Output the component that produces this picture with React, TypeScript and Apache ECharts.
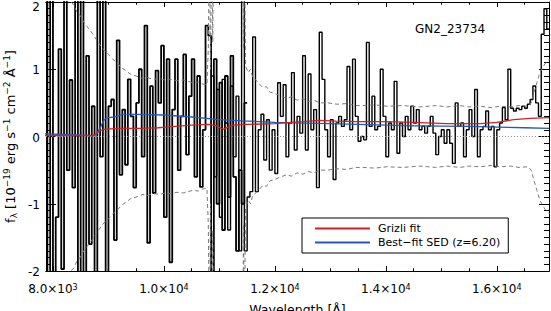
import React, { useEffect, useRef } from 'react';
import * as echarts from 'echarts';

const FONT = 'DejaVu Sans';
const X_MIN = 7875;
const X_MAX = 16940;
const Y_MIN = -2;
const Y_MAX = 2;
const X_MAJOR_TICKS = [8000, 10000, 12000, 14000, 16000];
const X_MINOR_TICKS = [8000, 8500, 9000, 9500, 10000, 10500, 11000, 11500, 12000, 12500, 13000, 13500, 14000, 14500, 15000, 15500, 16000, 16500];

// G102 spectrum (bin start, bin width in Angstrom)
const G102_START = 7850;
const G102_BIN = 50;
const G102_FLUX = [
  2.5, -2.5, 2.5, -2.5, -1.2, 1.3, -1.97, 2.5, -0.5, 0.84,
  -0.76, 2.5, -2.5, 2.5, -2.5, 1.2, -1.6, 0.45, -2.5, 2.5,
  -0.3, 2.5, -2.5, 0.45, 0.55, -1.54, 1.43, -0.57, 0.4, -0.42,
  0.85, 0.3, -0.76, 0.5, 1.0, -0.3, 1.65, -1.58, 0.75, -0.84,
  0.98, 0.5, 1.35, -1.2, 1.15, -1.87, 0.4, 1.15, -0.5, 0.3,
  1.22, -0.27, 0.6, 1.15, -0.6, 0.9, -0.75, 0.1, 1.65, 1.5,
  -2.5, 1.15, -1.0, 0.8, -1.39, 0.9, -0.9, 1.2, -0.6, -1.7,
  -0.5, -1.0, 0.5,
];

// G141 spectrum
const G141_START = 10850;
const G141_BIN = 50;
const G141_FLUX = [
  0.9, -0.6, 0.7, -1.2, 0.85, 0.2, -1.39, 0.75, -0.3, 0.6,
  -1.7, 2.5, -1.7, -0.9, -0.82, 1.48, -0.82, 0.1, 0.33, -0.35,
  0.25, -0.5, 0.1, -0.55, 0.8, 0.3, 0.77, -0.3, 0.2, 0.95,
  -0.2, 0.3, 0.05, 1.2, -0.2, 0.93, 0.1, 0.4, -0.76, 1.55,
  0.85, 0.1, -0.3, 0.25, -0.64, 0.2, 0.3, 0.15, 0.25, 1.04,
  0.1, 1.15, 0.3, -0.07, 0.0, -0.05, 1.4, 0.15, 0.6, 0.1,
  0.15, 1.0, 0.3, -0.3, 0.2, 0.1, 0.82, -0.25, 0.2, 0.0,
  0.3, 0.1, 0.45, 0.2, 0.4, 0.1, 0.15, 0.05, 0.15, 0.3,
  0.05, -0.27, 0.0, 0.1, -0.1, 0.1, -0.1, -0.4, 0.5, 0.15,
  0.2, -0.3, 0.1, 0.4, 0.0, 0.7, -0.3, 0.1, 0.15, 0.38,
  0.1, 0.15, -0.45, 0.1, 0.2, 0.43, 0.25, 1.0, 0.42, 0.38,
  0.42, 0.4, 0.45, 0.42, 0.48, 0.55, 0.75, 0.5, 0.3, 1.52,
  1.9, 1.6,
];

// 1-sigma uncertainties
const G102_ERR_WAVE = [7850, 8150, 8250, 8306, 8380, 8432, 8490, 8541, 8620, 8721, 8800, 8901, 8960, 9027, 9090, 9153, 9240, 9333, 9387, 9500, 9622, 9694, 9800, 9928, 10020, 10108, 10234, 10350, 10523, 10620, 10700, 10775, 10800, 10820, 10840, 10860, 10880, 10900, 11500];
const G102_ERR = [3.5, 2.6, 2.2, 2.02, 1.95, 1.85, 1.8, 1.72, 1.63, 1.52, 1.42, 1.3, 1.26, 1.2, 1.14, 1.1, 1.02, 0.97, 0.93, 0.9, 0.86, 0.88, 0.85, 0.86, 0.84, 0.85, 0.83, 0.84, 0.8, 0.81, 0.78, 0.77, 1.3, 3.0, 1.0, 3.0, 1.4, 3.2, 3.2];
const G141_ERR_WAVE = [10850, 11420, 11435, 11450, 11470, 11520, 11560, 11600, 11680, 11780, 11850, 11910, 12000, 12100, 12216, 12300, 12400, 12505, 12600, 12700, 12811, 12950, 13118, 13300, 13450, 13586, 13800, 14019, 14300, 14613, 14900, 15100, 15334, 15500, 15700, 15900, 16055, 16250, 16400, 16560, 16620, 16668, 16722, 16776, 16866, 16950];
const G141_ERR = [3.2, 3.2, 1.3, 3.0, 1.05, 0.95, 1.0, 0.88, 0.82, 0.73, 0.74, 0.66, 0.64, 0.6, 0.57, 0.59, 0.54, 0.56, 0.52, 0.54, 0.5, 0.5, 0.48, 0.49, 0.46, 0.46, 0.47, 0.45, 0.46, 0.44, 0.46, 0.44, 0.46, 0.44, 0.45, 0.43, 0.45, 0.44, 0.46, 0.45, 0.5, 0.65, 0.8, 0.95, 1.08, 1.15];

// Grizli fit (red)
const FIT_WAVE = [7850, 8700, 8760, 8850, 8950, 9200, 9600, 9900, 10200, 10500, 10800, 10950, 11030, 11080, 11150, 11250, 11500, 12000, 12500, 12800, 13100, 13500, 14000, 14500, 15100, 15700, 16000, 16300, 16600, 16940];
const FIT_FLUX = [0.015, 0.015, 0.03, 0.09, 0.11, 0.12, 0.12, 0.13, 0.15, 0.17, 0.18, 0.16, 0.12, 0.11, 0.14, 0.17, 0.18, 0.19, 0.22, 0.24, 0.23, 0.22, 0.22, 0.21, 0.19, 0.19, 0.21, 0.25, 0.27, 0.28];

// Best-fit SED (blue)
const SED_WAVE = [7850, 8200, 8500, 8720, 8780, 8850, 8900, 8950, 9000, 9100, 9150, 9250, 9500, 10000, 10500, 11000, 11500, 12000, 12500, 13000, 13500, 14000, 14500, 15000, 15500, 16000, 16500, 16940];
const SED_FLUX = [0.04, 0.03, 0.02, 0.01, 0.03, 0.12, 0.22, 0.27, 0.28, 0.29, 0.3, 0.33, 0.33, 0.32, 0.29, 0.25, 0.23, 0.21, 0.2, 0.19, 0.18, 0.17, 0.16, 0.155, 0.15, 0.14, 0.13, 0.12];

const RED = '#cc2229';
const BLUE = '#2659b2';

function stepData(start: number, bin: number, flux: number[]) {
  const d: number[][] = flux.map((v, i) => [start + i * bin, v]);
  d.push([start + flux.length * bin, flux[flux.length - 1]]);
  return d;
}

function fmtSci(v: number) {
  const e = Math.floor(Math.log10(v) + 1e-9);
  const m = (v / Math.pow(10, e)).toFixed(1);
  return `{m|${m}×10}{s|${e}}`;
}

export default function App() {
  const ref = useRef<HTMLDivElement>(null);
  useEffect(() => {
    if (!ref.current) return;
    const chart = echarts.init(ref.current, undefined, { renderer: 'svg' });
    const axisLine = { show: true, onZero: false, lineStyle: { color: '#000', width: 1 } };
    const baseX = {
      type: 'value' as const,
      min: X_MIN,
      max: X_MAX,
      splitLine: { show: false },
      axisLine,
    };
    const option: any = {
      animation: false,
      backgroundColor: '#fff',
      grid: { left: 46, right: 2, top: 2, bottom: 40, containLabel: false, outerBoundsMode: 'none' },
      title: {
        text: 'GN2_23734',
        left: 410,
        top: 18,
        textStyle: { fontFamily: FONT, fontSize: 12, fontWeight: 'normal', color: '#000' },
      },
      legend: {
        orient: 'vertical',
        left: 302,
        top: 218,
        padding: [5, 8, 5, 13],
        itemGap: 3,
        itemWidth: 55,
        itemHeight: 2,
        icon: 'rect',
        borderColor: '#000',
        borderWidth: 1,
        backgroundColor: '#fff',
        textStyle: { fontFamily: FONT, fontSize: 11, color: '#000', padding: [0, 0, 0, 3] },
        data: ['Grizli fit', 'Best−fit SED (z=6.20)'],
      },
      xAxis: [
        {
          ...baseX,
          position: 'bottom',
          name: 'Wavelength [Å]',
          nameLocation: 'middle',
          nameGap: 32,
          nameMoveOverlap: false,
          nameTextStyle: { fontFamily: FONT, fontSize: 12.5, lineHeight: 13, color: '#000' },
          axisTick: { show: true, inside: true, length: 5, customValues: X_MAJOR_TICKS, lineStyle: { color: '#000' } },
          axisLabel: {
            show: true,
            margin: 12,
            customValues: X_MAJOR_TICKS,
            formatter: (v: number) => fmtSci(v),
            rich: {
              m: { fontFamily: FONT, fontSize: 12, color: '#000', lineHeight: 12 },
              s: { fontFamily: FONT, fontSize: 8, color: '#000', lineHeight: 8, verticalAlign: 'top' },
            },
          },
        },
        {
          ...baseX,
          position: 'bottom',
          axisTick: { show: true, inside: true, length: 2.7, customValues: X_MINOR_TICKS, lineStyle: { color: '#000' } },
          axisLabel: { show: false },
        },
        {
          ...baseX,
          position: 'top',
          axisTick: { show: true, inside: true, length: 5, customValues: X_MAJOR_TICKS, lineStyle: { color: '#000' } },
          axisLabel: { show: false },
        },
        {
          ...baseX,
          position: 'top',
          axisTick: { show: true, inside: true, length: 2.7, customValues: X_MINOR_TICKS, lineStyle: { color: '#000' } },
          axisLabel: { show: false },
        },
      ],
      yAxis: [
        {
          type: 'value',
          min: Y_MIN,
          max: Y_MAX,
          interval: 1,
          position: 'left',
          splitLine: { show: false },
          axisLine,
          axisTick: { show: true, inside: true, length: 10, lineStyle: { color: '#000' } },
          minorTick: { show: true, splitNumber: 10, length: 5, lineStyle: { color: '#000' } },
          axisLabel: {
            margin: 6,
            formatter: (v: number) => (v === Y_MAX ? `{top|${v}}` : `{n|${v}}`),
            rich: {
              n: { fontFamily: FONT, fontSize: 12, color: '#000', padding: [2, 0, 0, 0] },
              top: { fontFamily: FONT, fontSize: 12, color: '#000', padding: [9, 0, 0, 0] },
            },
          },
          name: 'f{sub|λ} [10{sup|−19} erg s{sup|−1} cm{sup|−2} Å{sup|−1}]',
          nameLocation: 'middle',
          nameRotate: 90,
          nameGap: 28,
          nameMoveOverlap: false,
          nameTextStyle: {
            fontFamily: FONT,
            fontSize: 13,
            color: '#000',
            lineHeight: 16,
            rich: {
              sub: { fontFamily: FONT, fontSize: 9, color: '#000', lineHeight: 9, verticalAlign: 'bottom' },
              sup: { fontFamily: FONT, fontSize: 9, color: '#000', lineHeight: 9, verticalAlign: 'top' },
            },
          },
        },
        {
          type: 'value',
          min: Y_MIN,
          max: Y_MAX,
          interval: 1,
          position: 'right',
          splitLine: { show: false },
          axisLine,
          axisTick: { show: true, inside: true, length: 10, lineStyle: { color: '#000' } },
          minorTick: { show: true, splitNumber: 10, length: 5, lineStyle: { color: '#000' } },
          axisLabel: { show: false },
        },
      ],
      series: [
        {
          type: 'line',
          name: 'G102',
          step: 'end',
          data: stepData(G102_START, G102_BIN, G102_FLUX),
          showSymbol: false,
          silent: true,
          clip: true,
          lineStyle: { color: '#000', width: 1.8 },
          z: 2,
        },
        {
          type: 'line',
          name: 'G141',
          step: 'end',
          data: stepData(G141_START, G141_BIN, G141_FLUX),
          showSymbol: false,
          silent: true,
          clip: true,
          lineStyle: { color: '#000', width: 1.4 },
          z: 2,
        },
        ...[
          [G102_ERR_WAVE, G102_ERR, 1],
          [G102_ERR_WAVE, G102_ERR, -1],
          [G141_ERR_WAVE, G141_ERR, 1],
          [G141_ERR_WAVE, G141_ERR, -1],
        ].map(([w, e, s]: any, k) => ({
          type: 'line',
          name: 'err' + k,
          data: (w as number[]).map((x, i) => [x, s * (e as number[])[i]]),
          showSymbol: false,
          silent: true,
          clip: true,
          lineStyle: { color: '#7a7a7a', width: 1, type: [4, 3] },
          z: 3,
        })),
        {
          type: 'line',
          name: 'zero',
          data: [[X_MIN, 0], [X_MAX, 0]],
          showSymbol: false,
          silent: true,
          lineStyle: { color: '#8c8c8c', width: 1, type: [1, 2] },
          z: 3,
        },
        {
          type: 'line',
          name: 'Best−fit SED (z=6.20)',
          data: SED_WAVE.map((x, i) => [x, SED_FLUX[i]]),
          showSymbol: false,
          silent: true,
          color: BLUE,
          lineStyle: { color: BLUE, width: 1.3 },
          z: 4,
        },
        {
          type: 'line',
          name: 'Grizli fit',
          data: FIT_WAVE.map((x, i) => [x, FIT_FLUX[i]]),
          showSymbol: false,
          silent: true,
          color: RED,
          lineStyle: { color: RED, width: 1.3 },
          z: 5,
        },
      ],
    };
    chart.setOption(option);
    return () => chart.dispose();
  }, []);
  return (
    <div
      ref={ref}
      style={{ position: 'fixed', left: 0, top: 0, width: 551, height: 311, background: '#fff' }}
    />
  );
}
